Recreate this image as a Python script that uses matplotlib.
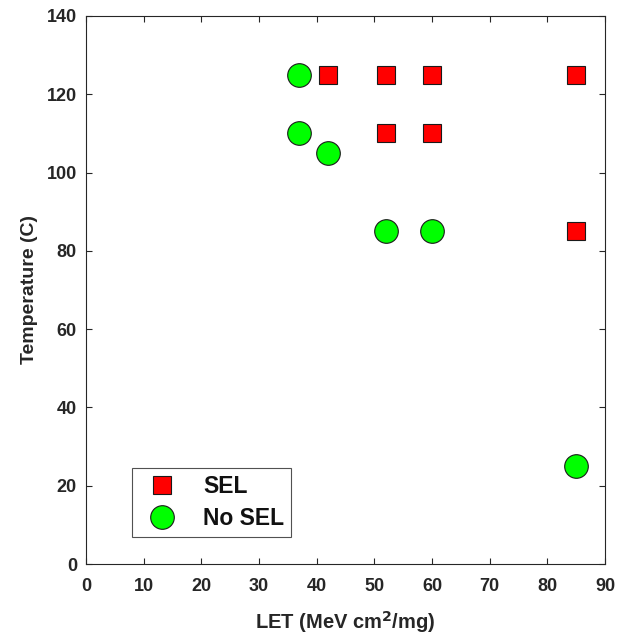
import matplotlib
matplotlib.use("Agg")
import matplotlib.pyplot as plt

sel_let = [42, 52, 60, 85, 52, 60, 85]
sel_temp = [125, 125, 125, 125, 110, 110, 85]
nosel_let = [37, 37, 42, 52, 60, 85]
nosel_temp = [125, 110, 105, 85, 85, 25]
xticks = list(range(0, 91, 10))
yticks = list(range(0, 141, 20))

plt.rcParams['font.family'] = ['Liberation Sans', 'DejaVu Sans']
plt.rcParams['font.weight'] = 'bold'
dark = '#262626'

fig = plt.figure(figsize=(6.29, 6.34), dpi=100)
ax = fig.add_axes([0.1367, 0.1104, 0.8251, 0.8644])
ax.plot(sel_let, sel_temp, 's', color='#ff0000', markeredgecolor='#1a1a1a',
        markersize=13, markeredgewidth=0.8, label='SEL', linestyle='none')
ax.plot(nosel_let, nosel_temp, 'o', color='#00ff00', markeredgecolor='#1a1a1a',
        markersize=17, markeredgewidth=0.8, label='No SEL', linestyle='none')
ax.set_xlim(0, 90)
ax.set_ylim(0, 140)
ax.set_xticks(xticks)
ax.set_yticks(yticks)
ax.tick_params(direction='in', top=True, right=True, length=4, width=0.8,
               colors=dark, labelsize=13, labelcolor=dark, pad=6.5)
ax.tick_params(axis='x', pad=10)
for lab in ax.get_xticklabels() + ax.get_yticklabels():
    lab.set_fontweight('bold')
for s in ax.spines.values():
    s.set_color(dark)
    s.set_linewidth(0.8)
ax.set_xlabel('LET (MeV cm$^\\mathbf{2}$/mg)', fontsize=14.5, fontweight='bold', color=dark, labelpad=10)
ax.set_ylabel('Temperature (C)', fontsize=14, fontweight='bold', color=dark, labelpad=6)
leg = ax.legend(loc='lower left', bbox_to_anchor=(0.089, 0.049), fontsize=16.5,
                frameon=True, fancybox=False, borderpad=0.3, handletextpad=0.8,
                labelspacing=0.4, handlelength=2.0, borderaxespad=0)
leg.get_frame().set_edgecolor(dark)
leg.get_frame().set_linewidth(0.8)
for t in leg.get_texts():
    t.set_fontweight('bold')
    t.set_color('#111111')
fig.savefig('out.png', dpi=100)
